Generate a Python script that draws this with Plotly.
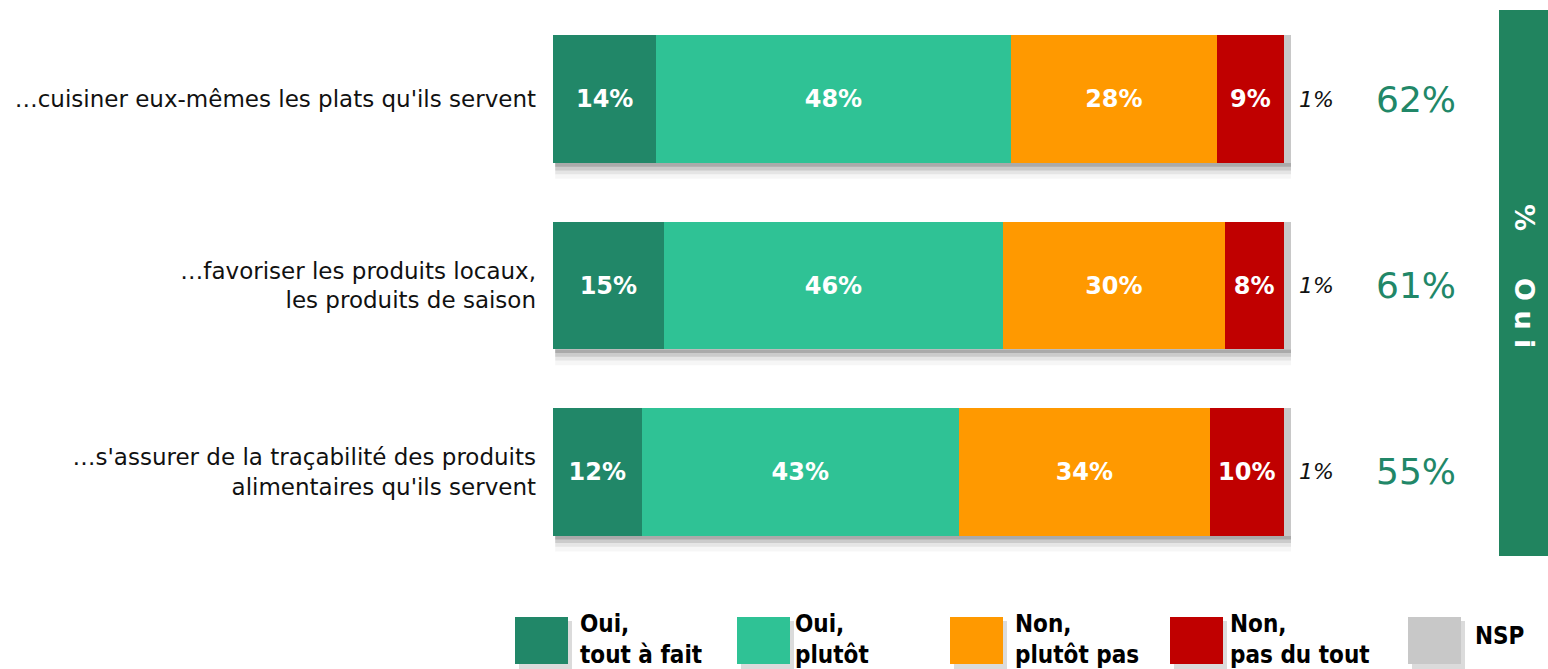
import plotly.graph_objects as go

categories = [
    "…cuisiner eux-mêmes les plats qu'ils servent",
    "…favoriser les produits locaux,<br>les produits de saison",
    "…s'assurer de la traçabilité des produits<br>alimentaires qu'ils servent",
]
series_names = ["Oui,<br>tout à fait", "Oui,<br>plutôt", "Non,<br>plutôt pas", "Non,<br>pas du tout", "NSP"]
oui_tout = [14, 15, 12]
oui_plutot = [48, 46, 43]
non_plutot = [28, 30, 34]
non_tout = [9, 8, 10]
nsp = [1, 1, 1]
colors = ["#218768", "#2fc295", "#ff9900", "#c00000", "#c8c8c8"]

series = [oui_tout, oui_plutot, non_plutot, non_tout, nsp]
XMAX = 100
N = len(categories)

fig = go.Figure()
for name, vals, col in zip(series_names, series, colors):
    is_nsp = name == "NSP"
    fig.add_trace(go.Bar(
        y=categories, x=vals, orientation="h", name=name,
        marker=dict(color=col, line=dict(width=0)),
        text=None if is_nsp else [f"{v}%" for v in vals],
        textposition="inside", insidetextanchor="middle",
        textfont=dict(family="DejaVu Sans", size=24, color="white", weight="bold"),
        width=0.685, showlegend=False, hoverinfo="skip",
    ))

shapes = []
annotations = []
BW = 0.685 / 2
for i, cat in enumerate(categories):
    total = sum(s[i] for s in series)
    yp = 1 - (i + 0.5) / N
    # drop shadow under each bar
    for dy, op in [(0.02, 0.28), (0.04, 0.18), (0.06, 0.10), (0.085, 0.05)]:
        shapes.append(dict(type="rect", xref="x", yref="y", x0=0.3, x1=total + 0.5,
                           y0=i + BW, y1=i + BW + dy, fillcolor="#555555",
                           opacity=op, line=dict(width=0), layer="below"))
    annotations.append(dict(xref="paper", yref="paper", x=(total + 0.8) / XMAX, y=yp,
                            xanchor="left", yanchor="middle",
                            text=f"<i>{nsp[i]}%</i>", showarrow=False,
                            font=dict(family="DejaVu Sans", size=22, color="#111111")))
    annotations.append(dict(xref="paper", yref="paper", x=1.169, y=yp,
                            xanchor="center", yanchor="middle",
                            text=f"{oui_tout[i] + oui_plutot[i]}%", showarrow=False,
                            font=dict(family="DejaVu Sans", size=36, color="#218768")))

L, PW, T, PH = 553, 738, 6, 559
def px(x):
    return (x - L) / PW
def py(y):
    return (T + PH - y) / PH

# right band "% Oui"
shapes.append(dict(type="rect", xref="paper", yref="paper", x0=px(1499), x1=px(1552),
                   y0=py(556), y1=py(10), fillcolor="#21845f", line=dict(width=0)))
annotations.append(dict(xref="paper", yref="paper", x=px(1525), y=py(276),
                        xanchor="center", yanchor="middle",
                        text="%\u00a0\u00a0\u00a0\u00a0\u00a0O\u00a0u\u00a0i", textangle=90,
                        showarrow=False,
                        font=dict(family="DejaVu Sans", size=27, color="white", weight="bold")))

# custom legend
leg_sq_x = [515, 737, 950, 1170, 1408]
leg_tx_x = [580, 795, 1015, 1230, 1475]
for name, col, sx, tx in zip(series_names, colors, leg_sq_x, leg_tx_x):
    shapes.append(dict(type="rect", xref="paper", yref="paper", x0=px(sx + 4), x1=px(sx + 57),
                       y0=py(669), y1=py(621), fillcolor="#999999", opacity=0.35,
                       line=dict(width=0)))
    shapes.append(dict(type="rect", xref="paper", yref="paper", x0=px(sx), x1=px(sx + 53),
                       y0=py(664), y1=py(617), fillcolor=col, line=dict(width=0)))
    is_nsp = name == "NSP"
    annotations.append(dict(xref="paper", yref="paper", x=px(tx - 2), y=py(636 if is_nsp else 639),
                            xanchor="left", yanchor="middle", align="left", text=f"<b>{name}</b>",
                            showarrow=False,
                            font=dict(family="Liberation Sans Narrow, DejaVu Sans Condensed, sans-serif",
                                      size=24, color="black")))

fig.update_layout(
    barmode="stack", bargap=0.3,
    width=1548, height=669,
    margin=dict(l=553, r=257, t=6, b=104),
    plot_bgcolor="white", paper_bgcolor="white",
    xaxis=dict(range=[0, XMAX], visible=False, fixedrange=True),
    yaxis=dict(categoryorder="array", categoryarray=categories, range=[N - 0.5, -0.5],
               showgrid=False, zeroline=False, showline=False, ticks="",
               ticklabelstandoff=16, fixedrange=True,
               tickfont=dict(family="DejaVu Sans", size=23, color="#111111")),
    shapes=shapes, annotations=annotations,
    uniformtext=dict(mode="show", minsize=10),
)
fig.write_html("out.html", config={"displayModeBar": False},
               post_script="document.body.style.margin='0';document.body.style.padding='0';"
                           "document.body.style.overflow='hidden';")
